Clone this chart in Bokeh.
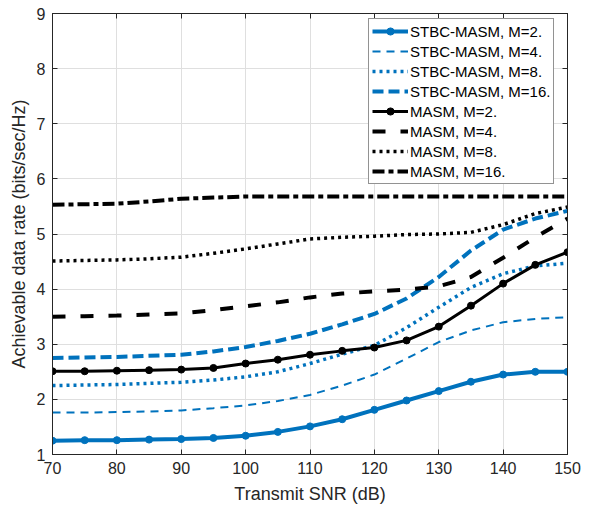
from bokeh.plotting import figure
from bokeh.models import LinearAxis, Range1d, Legend, LegendItem, FixedTicker
from bokeh.embed import file_html
from bokeh.resources import INLINE

snr = [70, 75, 80, 85, 90, 95, 100, 105, 110, 115, 120, 125, 130, 135, 140, 145, 150]

stbc_m2 = [1.25, 1.26, 1.26, 1.27, 1.28, 1.30, 1.34, 1.41, 1.51, 1.64, 1.81, 1.98, 2.15, 2.32, 2.45, 2.50, 2.50]
stbc_m4 = [1.76, 1.76, 1.77, 1.78, 1.80, 1.84, 1.89, 1.97, 2.08, 2.25, 2.45, 2.74, 3.04, 3.25, 3.40, 3.46, 3.49]
stbc_m8 = [2.25, 2.26, 2.27, 2.29, 2.31, 2.35, 2.41, 2.50, 2.65, 2.82, 2.98, 3.30, 3.67, 4.03, 4.28, 4.42, 4.47]
stbc_m16 = [2.75, 2.76, 2.77, 2.79, 2.81, 2.87, 2.95, 3.06, 3.19, 3.36, 3.55, 3.83, 4.22, 4.70, 5.08, 5.28, 5.42]
masm_m2 = [2.51, 2.51, 2.52, 2.53, 2.54, 2.57, 2.65, 2.72, 2.81, 2.88, 2.94, 3.07, 3.32, 3.70, 4.10, 4.44, 4.67]
masm_m4 = [3.50, 3.51, 3.52, 3.54, 3.56, 3.62, 3.69, 3.76, 3.85, 3.92, 3.96, 3.99, 4.05, 4.22, 4.57, 4.94, 5.28]
masm_m8 = [4.51, 4.52, 4.53, 4.55, 4.58, 4.65, 4.73, 4.82, 4.91, 4.94, 4.96, 4.99, 5.00, 5.03, 5.17, 5.37, 5.49]
masm_m16 = [5.53, 5.54, 5.55, 5.59, 5.64, 5.66, 5.68, 5.68, 5.68, 5.68, 5.68, 5.68, 5.68, 5.68, 5.68, 5.68, 5.68]

labels = ["STBC-MASM, M=2.", "STBC-MASM, M=4.", "STBC-MASM, M=8.", "STBC-MASM, M=16.",
          "MASM, M=2.", "MASM, M=4.", "MASM, M=8.", "MASM, M=16."]

x_ticks = [70, 80, 90, 100, 110, 120, 130, 140, 150]
y_ticks = [1, 2, 3, 4, 5, 6, 7, 8, 9]

BLUE = "#0072BD"
BLACK = "#000000"
AX = "#262626"
FONT = "Liberation Sans"

p = figure(width=599, height=506, output_backend="svg", toolbar_location=None,
           x_range=Range1d(70, 150), y_range=Range1d(1, 9),
           min_border_left=52, min_border_right=32, min_border_top=13, min_border_bottom=52)
p.background_fill_color = "white"
p.border_fill_color = "white"
p.outline_line_color = AX
p.outline_line_width = 1

for ax in [p.xaxis[0], p.yaxis[0]]:
    ax.major_tick_in = 5
    ax.major_tick_out = 0
    ax.minor_tick_line_color = None
    ax.axis_line_color = AX
    ax.major_tick_line_color = AX
    ax.major_label_text_color = AX
    ax.major_label_text_font = FONT
    ax.major_label_text_font_size = "16px"
    ax.axis_label_text_font = FONT
    ax.axis_label_text_font_size = "18px"
    ax.axis_label_text_font_style = "normal"
    ax.axis_label_text_color = AX

p.xaxis.ticker = FixedTicker(ticks=x_ticks)
p.yaxis.ticker = FixedTicker(ticks=y_ticks)
p.xaxis.axis_label = "Transmit SNR (dB)"
p.yaxis.axis_label = "Achievable data rate (bits/sec/Hz)"
p.xaxis.major_label_standoff = 7
p.yaxis.major_label_standoff = 7
p.xaxis.axis_label_standoff = 7
p.yaxis.axis_label_standoff = 5

for loc in ["right", "above"]:
    a = LinearAxis(ticker=FixedTicker(ticks=y_ticks if loc == "right" else x_ticks))
    a.major_tick_in = 5
    a.major_tick_out = 0
    a.minor_tick_line_color = None
    a.major_label_text_font_size = "0px"
    a.major_label_text_alpha = 0
    a.major_label_standoff = 0
    a.axis_line_color = AX
    a.major_tick_line_color = AX
    p.add_layout(a, loc)

p.xgrid.grid_line_color = "#dfdfdf"
p.ygrid.grid_line_color = "#dfdfdf"
p.xgrid.ticker = FixedTicker(ticks=x_ticks)
p.ygrid.ticker = FixedTicker(ticks=y_ticks)

items = []
r = p.line(snr, stbc_m2, line_color=BLUE, line_width=4)
m = p.scatter(snr, stbc_m2, marker="circle", size=7, color=BLUE)
items.append(LegendItem(label=labels[0], renderers=[r, m]))
r = p.line(snr, stbc_m4, line_color=BLUE, line_width=2, line_dash="8 6")
items.append(LegendItem(label=labels[1], renderers=[r]))
r = p.line(snr, stbc_m8, line_color=BLUE, line_width=3.5, line_dash="3 4")
items.append(LegendItem(label=labels[2], renderers=[r]))
r = p.line(snr, stbc_m16, line_color=BLUE, line_width=4, line_dash="11 5")
items.append(LegendItem(label=labels[3], renderers=[r]))
r = p.line(snr, masm_m2, line_color=BLACK, line_width=3)
m = p.scatter(snr, masm_m2, marker="circle", size=7, color=BLACK)
items.append(LegendItem(label=labels[4], renderers=[r, m]))
r = p.line(snr, masm_m4, line_color=BLACK, line_width=4, line_dash="13 15")
items.append(LegendItem(label=labels[5], renderers=[r]))
r = p.line(snr, masm_m8, line_color=BLACK, line_width=3.5, line_dash="3 4")
items.append(LegendItem(label=labels[6], renderers=[r]))
r = p.line(snr, masm_m16, line_color=BLACK, line_width=4, line_dash="12 4 5 4")
items.append(LegendItem(label=labels[7], renderers=[r]))

legend = Legend(items=items, location=(316, 270))
legend.label_text_font = FONT
legend.label_text_font_size = "15px"
legend.label_text_color = "#000000"
legend.label_height = 18
legend.glyph_height = 18
legend.glyph_width = 36
legend.label_standoff = 2
legend.spacing = 2
legend.padding = 3
legend.margin = 0
legend.border_line_color = AX
legend.border_line_width = 1
legend.background_fill_color = "white"
legend.background_fill_alpha = 1
p.add_layout(legend, "center")

open("out.html", "w").write(file_html(p, INLINE))
